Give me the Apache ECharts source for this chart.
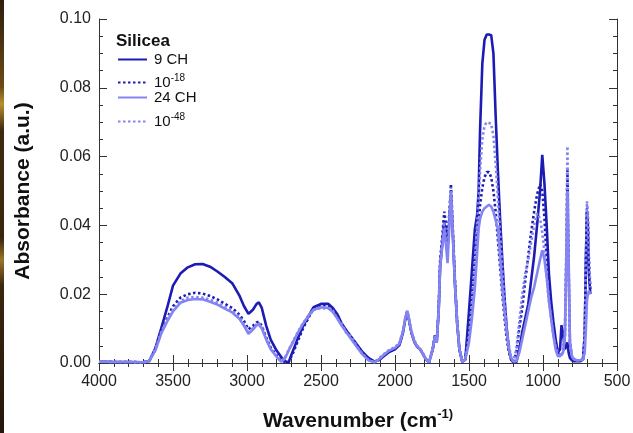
<!DOCTYPE html>
<html>
<head>
<meta charset="utf-8">
<script src="https://cdn.jsdelivr.net/npm/echarts@6/dist/echarts.min.js"></script>
<style>
  html, body { margin: 0; padding: 0; background: #fff; }
  #chart { width: 633px; height: 433px; }
</style>
</head>
<body>
<div id="chart"></div>
<script>
// Wavenumber grid (cm^-1), shared by all four FTIR spectra
const wavenumber = [
  4000, 3900, 3800, 3700, 3660, 3620, 3580, 3540, 3500, 3450,
  3400, 3350, 3300, 3250, 3200, 3150, 3100, 3050, 3020, 2990,
  2960, 2935, 2920, 2900, 2870, 2840, 2800, 2770, 2745, 2720,
  2690, 2660, 2620, 2580, 2550, 2500, 2450, 2420, 2390, 2360,
  2330, 2300, 2260, 2220, 2180, 2140, 2110, 2080, 2040, 2000,
  1970, 1945, 1930, 1917, 1905, 1890, 1870, 1850, 1830, 1810,
  1790, 1770, 1745, 1730, 1718, 1705, 1695, 1680, 1667, 1655,
  1645, 1635, 1622, 1610, 1595, 1580, 1565, 1545, 1525, 1500,
  1480, 1460, 1445, 1435, 1425, 1410, 1395, 1380, 1365, 1350,
  1335, 1320, 1305, 1290, 1275, 1260, 1245, 1230, 1215, 1200,
  1180, 1160, 1140, 1120, 1100, 1080, 1060, 1040, 1020, 1005,
  990, 975, 960, 945, 930, 915, 900, 885, 875, 865,
  852, 843, 835, 827, 818, 805, 790, 770, 750, 730,
  718, 710, 703, 697, 690, 680
];

// Absorbance (a.u.)
const ch9 = [
  0.0004, 0.0003, 0.0003, 0.0002, 0.0006, 0.0042, 0.0100, 0.0160, 0.0225, 0.0260,
  0.0278, 0.0287, 0.0288, 0.0280, 0.0266, 0.0250, 0.0232, 0.0195, 0.0165, 0.0143,
  0.0155, 0.0172, 0.0176, 0.0160, 0.0108, 0.0068, 0.0036, 0.0018, 0.0006, 0.0001,
  0.0035, 0.0068, 0.0108, 0.0140, 0.0162, 0.0172, 0.0172, 0.0160, 0.0142, 0.0115,
  0.0095, 0.0078, 0.0055, 0.0032, 0.0015, 0.0004, 0.0008, 0.0018, 0.0032, 0.0040,
  0.0052, 0.0090, 0.0128, 0.0148, 0.0124, 0.0090, 0.0062, 0.0047, 0.0040, 0.0025,
  0.0010, 0.0002, 0.0040, 0.0080, 0.0060, 0.0150, 0.0280, 0.0350, 0.0410, 0.0380,
  0.0335, 0.0400, 0.0490, 0.0380, 0.0230, 0.0115, 0.0040, 0.0003, 0.0010, 0.0150,
  0.0270, 0.0390, 0.0430, 0.0500, 0.0680, 0.0870, 0.0940, 0.0955, 0.0955, 0.0953,
  0.0900, 0.0720, 0.0560, 0.0420, 0.0300, 0.0190, 0.0100, 0.0040, 0.0010, 0.0002,
  0.0002, 0.0040, 0.0090, 0.0130, 0.0170, 0.0240, 0.0310, 0.0400, 0.0500, 0.0605,
  0.0520, 0.0400, 0.0260, 0.0180, 0.0120, 0.0070, 0.0030, 0.0040, 0.0110, 0.0085,
  0.0040, 0.0050, 0.0060, 0.0030, 0.0015, 0.0008, 0.0005, 0.0005, 0.0005, 0.0010,
  0.0080, 0.0300, 0.0440, 0.0400, 0.0260, 0.0200
];
const dil18 = [
  0.0004, 0.0003, 0.0003, 0.0002, 0.0006, 0.0040, 0.0090, 0.0130, 0.0165, 0.0190,
  0.0200, 0.0204, 0.0202, 0.0195, 0.0185, 0.0172, 0.0160, 0.0140, 0.0122, 0.0098,
  0.0108, 0.0118, 0.0120, 0.0108, 0.0074, 0.0045, 0.0022, 0.0010, 0.0003, 0.0002,
  0.0028, 0.0060, 0.0102, 0.0135, 0.0158, 0.0168, 0.0168, 0.0155, 0.0138, 0.0112,
  0.0095, 0.0078, 0.0054, 0.0030, 0.0014, 0.0004, 0.0008, 0.0020, 0.0034, 0.0042,
  0.0055, 0.0092, 0.0130, 0.0150, 0.0125, 0.0090, 0.0062, 0.0047, 0.0040, 0.0025,
  0.0010, 0.0002, 0.0040, 0.0082, 0.0062, 0.0160, 0.0300, 0.0370, 0.0440, 0.0400,
  0.0360, 0.0420, 0.0520, 0.0400, 0.0240, 0.0120, 0.0040, 0.0003, 0.0010, 0.0100,
  0.0200, 0.0300, 0.0370, 0.0410, 0.0460, 0.0510, 0.0540, 0.0555, 0.0555, 0.0540,
  0.0500, 0.0440, 0.0360, 0.0280, 0.0200, 0.0130, 0.0070, 0.0030, 0.0010, 0.0003,
  0.0030, 0.0100, 0.0160, 0.0240, 0.0310, 0.0380, 0.0440, 0.0490, 0.0520, 0.0500,
  0.0420, 0.0300, 0.0220, 0.0160, 0.0100, 0.0060, 0.0030, 0.0020, 0.0020, 0.0030,
  0.0080, 0.0300, 0.0560, 0.0300, 0.0060, 0.0020, 0.0010, 0.0008, 0.0008, 0.0010,
  0.0080, 0.0300, 0.0450, 0.0420, 0.0300, 0.0210
];
const ch24 = [
  0.0004, 0.0003, 0.0003, 0.0002, 0.0006, 0.0035, 0.0085, 0.0120, 0.0150, 0.0175,
  0.0183, 0.0186, 0.0185, 0.0178, 0.0170, 0.0158, 0.0147, 0.0128, 0.0108, 0.0085,
  0.0097, 0.0110, 0.0112, 0.0100, 0.0068, 0.0040, 0.0018, 0.0004, 0.0012, 0.0035,
  0.0060, 0.0085, 0.0115, 0.0140, 0.0155, 0.0162, 0.0160, 0.0148, 0.0130, 0.0108,
  0.0090, 0.0072, 0.0048, 0.0025, 0.0008, 0.0002, 0.0010, 0.0022, 0.0036, 0.0044,
  0.0056, 0.0094, 0.0132, 0.0152, 0.0126, 0.0092, 0.0064, 0.0048, 0.0040, 0.0026,
  0.0010, 0.0002, 0.0040, 0.0078, 0.0060, 0.0150, 0.0280, 0.0340, 0.0390, 0.0340,
  0.0290, 0.0380, 0.0500, 0.0380, 0.0230, 0.0115, 0.0040, 0.0003, 0.0010, 0.0060,
  0.0130, 0.0220, 0.0320, 0.0390, 0.0420, 0.0440, 0.0450, 0.0455, 0.0460, 0.0455,
  0.0440, 0.0415, 0.0390, 0.0310, 0.0220, 0.0150, 0.0090, 0.0040, 0.0015, 0.0004,
  0.0005, 0.0030, 0.0070, 0.0110, 0.0150, 0.0190, 0.0220, 0.0260, 0.0300, 0.0328,
  0.0300, 0.0250, 0.0180, 0.0130, 0.0080, 0.0040, 0.0020, 0.0020, 0.0020, 0.0030,
  0.0080, 0.0280, 0.0500, 0.0280, 0.0060, 0.0020, 0.0010, 0.0008, 0.0008, 0.0010,
  0.0030, 0.0100, 0.0180, 0.0200, 0.0210, 0.0200
];
const dil48 = [
  0.0004, 0.0003, 0.0003, 0.0002, 0.0006, 0.0040, 0.0090, 0.0125, 0.0155, 0.0180,
  0.0190, 0.0192, 0.0190, 0.0184, 0.0175, 0.0164, 0.0152, 0.0133, 0.0113, 0.0090,
  0.0101, 0.0114, 0.0116, 0.0104, 0.0071, 0.0042, 0.0020, 0.0006, 0.0014, 0.0037,
  0.0062, 0.0087, 0.0117, 0.0140, 0.0154, 0.0160, 0.0158, 0.0152, 0.0128, 0.0115,
  0.0088, 0.0080, 0.0050, 0.0027, 0.0009, 0.0003, 0.0012, 0.0024, 0.0038, 0.0046,
  0.0058, 0.0096, 0.0134, 0.0153, 0.0128, 0.0094, 0.0066, 0.0050, 0.0042, 0.0028,
  0.0012, 0.0003, 0.0042, 0.0080, 0.0062, 0.0155, 0.0290, 0.0355, 0.0410, 0.0360,
  0.0320, 0.0400, 0.0510, 0.0390, 0.0235, 0.0118, 0.0042, 0.0004, 0.0010, 0.0080,
  0.0180, 0.0300, 0.0400, 0.0480, 0.0560, 0.0650, 0.0690, 0.0700, 0.0698, 0.0695,
  0.0660, 0.0580, 0.0480, 0.0380, 0.0280, 0.0180, 0.0100, 0.0050, 0.0015, 0.0005,
  0.0040, 0.0120, 0.0200, 0.0260, 0.0300, 0.0350, 0.0400, 0.0435, 0.0420, 0.0380,
  0.0320, 0.0250, 0.0180, 0.0130, 0.0080, 0.0050, 0.0030, 0.0020, 0.0020, 0.0030,
  0.0080, 0.0320, 0.0630, 0.0320, 0.0060, 0.0020, 0.0010, 0.0008, 0.0008, 0.0010,
  0.0080, 0.0310, 0.0470, 0.0440, 0.0310, 0.0220
];

const seriesNames = ['9 CH', '10^-18', '24 CH', '10^-48'];
const seriesValues = [ch9, dil18, ch24, dil48];
const xTicks = { min: 500, max: 4000, step: 500 };
const yTicks = { min: 0, max: 0.1, step: 0.02 };

const DARK = '#1c1cb4';
const LIGHT = '#8585f2';
const FONT = "'Liberation Sans', Arial, sans-serif";
const styles = [
  { color: DARK, dash: 'solid' },
  { color: DARK, dash: [2.5, 2.5] },
  { color: LIGHT, dash: 'solid' },
  { color: LIGHT, dash: [2.5, 2.5] }
];

const supRich = {
  sup: { fontSize: 10, fontFamily: FONT, color: '#111', padding: [0, 0, 9, 0] }
};
const withSup = s => s.replace(/\^(\S+)/, '{sup|$1}');

const axisLineStyle = { color: '#333', width: 1 };
function xAxisDef(pos, labels) {
  return {
    type: 'value', position: pos, inverse: true,
    min: xTicks.min, max: xTicks.max, interval: xTicks.step,
    axisLine: { show: true, lineStyle: axisLineStyle },
    axisTick: { show: true, inside: true, length: 8, lineStyle: axisLineStyle },
    minorTick: { show: true, splitNumber: 5, length: 4, lineStyle: axisLineStyle },
    splitLine: { show: false },
    axisLabel: labels ? { show: true, fontSize: 16, color: '#222', fontFamily: FONT, margin: 11,
      formatter: v => String(v) } : { show: false }
  };
}
function yAxisDef(pos, labels) {
  return {
    type: 'value', position: pos,
    min: yTicks.min, max: yTicks.max, interval: yTicks.step,
    axisLine: { show: true, lineStyle: axisLineStyle },
    axisTick: { show: true, inside: true, length: 8, lineStyle: axisLineStyle },
    minorTick: { show: true, splitNumber: 4, length: 4, lineStyle: axisLineStyle },
    splitLine: { show: false },
    axisLabel: labels ? { show: true, fontSize: 16, color: '#222', fontFamily: FONT, margin: 8,
      formatter: v => v.toFixed(2) } : { show: false }
  };
}

const xBottom = xAxisDef('bottom', true);
xBottom.name = withSup('Wavenumber (cm^-1)');
xBottom.nameLocation = 'middle';
xBottom.nameGap = 45;
xBottom.nameTextStyle = { fontSize: 21, fontWeight: 'bold', color: '#111', fontFamily: FONT,
  rich: { sup: { fontSize: 13, fontWeight: 'bold', fontFamily: FONT, color: '#111', padding: [0, 0, 13, 0] } } };

const yLeft = yAxisDef('left', true);
yLeft.name = 'Absorbance (a.u.)';
yLeft.nameLocation = 'middle';
yLeft.nameGap = 65;
yLeft.nameTextStyle = { fontSize: 21, fontWeight: 'bold', color: '#111', fontFamily: FONT };

// one legend block per entry so each row sits at its own height
const legendRows = [59, 80, 97, 119];
const legends = seriesNames.map((name, i) => ({
  data: [name],
  left: 117, top: legendRows[i] - 7, padding: 0,
  itemWidth: 29, itemHeight: 14, itemGap: 0,
  itemStyle: { opacity: 0 },
  formatter: n => withSup(n),
  textStyle: { fontSize: 15, color: '#111', fontFamily: FONT, padding: [0, 0, 0, 2], rich: supRich },
  selectedMode: false
}));

const chart = echarts.init(document.getElementById('chart'), null, { renderer: 'canvas' });
chart.setOption({
  animation: false,
  backgroundColor: '#fff',
  grid: { left: 99, right: 16, top: 19, bottom: 70, containLabel: false, outerBoundsMode: 'none' },
  xAxis: [xBottom, xAxisDef('top', false)],
  yAxis: [yLeft, yAxisDef('right', false)],
  legend: legends,
  graphic: [
    { type: 'rect', left: 0, top: 0, shape: { width: 4, height: 433 }, silent: true,
      style: { fill: new echarts.graphic.LinearGradient(0, 0, 0, 1, [
        { offset: 0, color: '#2e1d0c' }, { offset: 0.2, color: '#6a4a18' },
        { offset: 0.24, color: '#b8902c' }, { offset: 0.3, color: '#3e2a10' },
        { offset: 0.55, color: '#3a2610' }, { offset: 0.6, color: '#9a7428' },
        { offset: 0.66, color: '#3a2610' }, { offset: 1, color: '#24160a' }]) } },
    { type: 'text', left: 116, top: 33, silent: true,
      style: { text: 'Silicea', font: "bold 17px 'Liberation Sans', Arial, sans-serif", fill: '#111' } }
  ],
  series: seriesNames.map((name, i) => ({
    name, type: 'line', xAxisIndex: 0, yAxisIndex: 0,
    data: wavenumber.map((w, k) => [w, seriesValues[i][k]]),
    symbol: 'none', showSymbol: false, clip: true,
    lineStyle: { color: styles[i].color, width: 2.6, type: styles[i].dash },
    itemStyle: { color: styles[i].color }
  }))
});
</script>
</body>
</html>
